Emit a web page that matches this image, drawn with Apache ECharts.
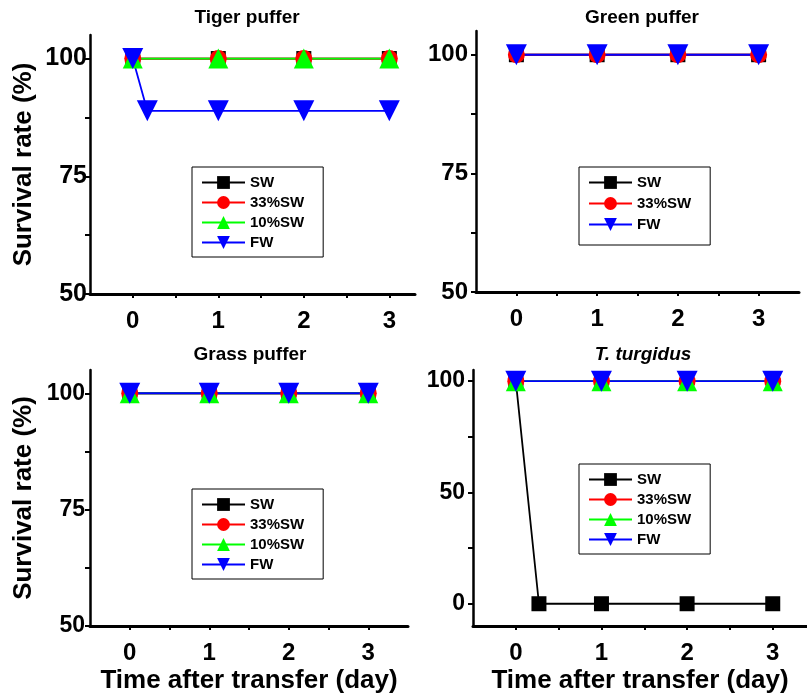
<!DOCTYPE html>
<html lang="en">
<head>
<meta charset="UTF-8">
<title>Survival rate</title>
<script src="https://cdn.jsdelivr.net/npm/echarts@6/dist/echarts.min.js"></script>
<style>
    html, body {margin: 0; padding: 0; background: #fff;}
    #main {width: 807px; height: 697px;}
</style>
</head>
<body>
<div id="main"></div>
<script>
// days after transfer
var days = [0, 1, 2, 3];

// Tiger puffer
var tigerSW = [100, 100, 100, 100];
var tiger33 = [100, 100, 100, 100];
var tiger10 = [100, 100, 100, 100];
var tigerFWDays = [0, 0.17, 1, 2, 3];
var tigerFW = [100, 88.9, 88.9, 88.9, 88.9];

// Green puffer (no 10%SW group)
var greenSW = [100, 100, 100, 100];
var green33 = [100, 100, 100, 100];
var greenFW = [100, 100, 100, 100];

// Grass puffer
var grassSW = [100, 100, 100, 100];
var grass33 = [100, 100, 100, 100];
var grass10 = [100, 100, 100, 100];
var grassFW = [100, 100, 100, 100];

// T. turgidus
var turgSWDays = [0, 0.27, 1, 2, 3];
var turgSW = [100, 0, 0, 0, 0];
var turg33 = [100, 100, 100, 100];
var turg10 = [100, 100, 100, 100];
var turgFW = [100, 100, 100, 100];

// ticks
var xTicks = [0, 0.5, 1, 1.5, 2, 2.5, 3];
var xLabels = [0, 1, 2, 3];
var yTicksHigh = [50, 62.5, 75, 87.5, 100];
var yLabelsHigh = [50, 75, 100];
var yTicksFull = [0, 25, 50, 75, 100];
var yLabelsFull = [0, 50, 100];

var FONT = '"Liberation Sans", Arial, sans-serif';

var looks = {
    'SW':    {symbol: 'rect', size: 15, color: '#000000', rotate: 0},
    '33%SW': {symbol: 'circle', size: 17, color: '#ff0000', rotate: 0},
    '10%SW': {symbol: 'triangle', size: 20, color: '#00ff00', rotate: 0},
    'FW':    {symbol: 'triangle', size: 21, color: '#0000ff', rotate: 180}
};

function pairs(xs, ys) {
    return xs.map(function (x, i) { return [x, ys[i]]; });
}

function line(name, idx, xs, ys) {
    var l = looks[name];
    return {
        name: name, type: 'line', xAxisIndex: idx, yAxisIndex: idx,
        data: pairs(xs, ys),
        symbol: l.symbol, symbolSize: l.size, symbolRotate: l.rotate,
        lineStyle: {color: l.color, width: 1.8},
        itemStyle: {color: l.color},
        clip: false, animation: false,
        emphasis: {disabled: true}
    };
}

var grids = [
    {left: 90, top: 35, width: 325, height: 259},
    {left: 476, top: 31, width: 323, height: 261},
    {left: 90, top: 370, width: 318, height: 256},
    {left: 473, top: 370, width: 334, height: 256}
];
grids.forEach(function (g) { g.outerBoundsMode = 'none'; });

function xAxis(idx, max, withName) {
    return {
        type: 'value', gridIndex: idx, min: -0.5, max: max,
        name: withName ? 'Time after transfer (day)' : '',
        nameLocation: 'middle', nameGap: 42,
        nameTextStyle: {fontSize: 26, fontWeight: 'bold', color: '#000', fontFamily: FONT},
        axisLine: {onZero: false, lineStyle: {color: '#000', width: 3}},
        axisTick: {customValues: xTicks, length: 4, lineStyle: {color: '#000', width: 2}},
        axisLabel: {customValues: xLabels, fontSize: 24, fontWeight: 'bold', color: '#000', margin: 15, fontFamily: FONT},
        splitLine: {show: false}
    };
}

function yAxis(idx, min, ticks, labels, labelSize, margin, withName) {
    return {
        type: 'value', gridIndex: idx, min: min, max: 105,
        name: withName ? 'Survival rate (%)' : '',
        nameLocation: 'middle', nameGap: 53,
        nameTextStyle: {fontSize: 26, fontWeight: 'bold', color: '#000', fontFamily: FONT},
        axisLine: {show: true, onZero: false, lineStyle: {color: '#000', width: 2.5}},
        axisTick: {show: true, customValues: ticks, length: 5, lineStyle: {color: '#000', width: 2}},
        axisLabel: {customValues: labels, fontSize: labelSize, fontWeight: 'bold', color: '#000', margin: margin, fontFamily: FONT},
        splitLine: {show: false}
    };
}

function legend(names, left, top, gap, padBottom) {
    return {
        data: names, orient: 'vertical', left: left, top: top,
        padding: [8, 19, padBottom, 9],
        itemWidth: 43, itemHeight: 16, itemGap: gap,
        borderColor: '#000', borderWidth: 1, backgroundColor: '#fff',
        selectedMode: false,
        textStyle: {fontSize: 15, fontWeight: 'bold', color: '#000', fontFamily: FONT}
    };
}

function title(text, x, y, italic) {
    return {
        type: 'text', x: x, y: y,
        style: {text: text, align: 'center', verticalAlign: 'middle', fill: '#000',
            font: (italic ? 'italic ' : '') + 'bold 19px ' + FONT}
    };
}

var allNames = ['SW', '33%SW', '10%SW', 'FW'];

var myChart = echarts.init(document.getElementById('main'));
myChart.setOption({
    animation: false,
    grid: grids,
    xAxis: [xAxis(0, 3.3, false), xAxis(1, 3.5, false), xAxis(2, 3.5, true), xAxis(3, 3.4, true)],
    yAxis: [
        yAxis(0, 50, yTicksHigh, yLabelsHigh, 25, 3, true),
        yAxis(1, 50, yTicksHigh, yLabelsHigh, 24, 8, false),
        yAxis(2, 50, yTicksHigh, yLabelsHigh, 23, 5, true),
        yAxis(3, -10, yTicksFull, yLabelsFull, 23, 8, false)
    ],
    legend: [
        legend(allNames, 192, 167, 5, 7),
        legend(['SW', '33%SW', 'FW'], 579, 167, 6, 13),
        legend(allNames, 192, 489, 5, 7),
        legend(allNames, 579, 464, 5, 7)
    ],
    graphic: [
        title('Tiger puffer', 247, 18, false),
        title('Green puffer', 642, 18, false),
        title('Grass puffer', 250, 355, false),
        title('T. turgidus', 643, 355, true)
    ],
    series: [
        line('SW', 0, days, tigerSW),
        line('33%SW', 0, days, tiger33),
        line('10%SW', 0, days, tiger10),
        line('FW', 0, tigerFWDays, tigerFW),

        line('SW', 1, days, greenSW),
        line('33%SW', 1, days, green33),
        line('FW', 1, days, greenFW),

        line('SW', 2, days, grassSW),
        line('33%SW', 2, days, grass33),
        line('10%SW', 2, days, grass10),
        line('FW', 2, days, grassFW),

        line('SW', 3, turgSWDays, turgSW),
        line('33%SW', 3, days, turg33),
        line('10%SW', 3, days, turg10),
        line('FW', 3, days, turgFW)
    ]
});
</script>
</body>
</html>
